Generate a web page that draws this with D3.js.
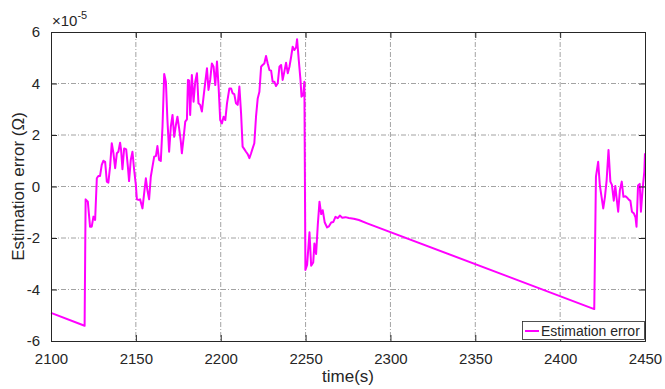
<!DOCTYPE html>
<html><head><meta charset="utf-8">
<script src="https://cdn.jsdelivr.net/npm/d3@7"></script>
<style>
body{margin:0;background:#fff;}
text{font-family:"Liberation Sans",Arial,Helvetica,sans-serif;fill:#262626;}
</style></head>
<body>
<svg id="c" width="665" height="389"></svg>
<script>
// time (s)
const times = [2100,2119.8,2120.4,2121.7,2123.0,2124.0,2125.0,2126.0,2127.0,2127.9,2128.9,2129.9,2130.9,2131.9,2132.9,2133.8,2134.8,2135.8,2136.8,2137.8,2138.8,2139.7,2140.7,2141.3,2142.1,2143.1,2144.3,2145.3,2146.0,2147.0,2148.0,2149.0,2150.0,2150.6,2151.5,2152.5,2153.9,2154.9,2155.9,2156.8,2157.8,2158.8,2159.8,2160.8,2161.8,2162.7,2163.7,2164.7,2165.7,2166.7,2167.7,2168.6,2169.6,2170.6,2171.6,2172.6,2173.6,2174.5,2175.5,2176.5,2177.1,2178.1,2179.1,2180.1,2180.7,2181.4,2182.0,2183.0,2184.0,2185.0,2186.0,2186.9,2187.9,2188.9,2189.9,2190.9,2191.9,2192.8,2193.8,2194.8,2195.8,2196.8,2197.8,2198.7,2199.7,2200.7,2201.7,2202.7,2203.7,2205.1,2206.1,2207.0,2208.0,2209.0,2210.0,2211.0,2212.0,2212.9,2213.9,2214.9,2215.9,2216.9,2217.9,2218.8,2219.8,2220.8,2221.8,2222.8,2223.8,2224.7,2225.7,2226.7,2227.7,2228.7,2229.7,2230.6,2231.6,2232.6,2233.6,2234.6,2235.6,2236.5,2237.5,2238.5,2239.5,2240.5,2241.5,2242.4,2243.4,2244.4,2245.0,2246.0,2247.0,2247.6,2248.6,2249.3,2249.9,2250.9,2252.3,2253.3,2254.5,2255.2,2256.2,2257.2,2258.2,2259.2,2260.1,2261.3,2262.7,2263.7,2265.1,2266.3,2267.6,2269.0,2270.2,2271.6,2273.5,2275.5,2278.4,2281.4,2286.3,2420.1,2421.1,2422.4,2423.4,2424.4,2425.4,2426.4,2427.4,2428.5,2429.6,2430.5,2431.6,2432.5,2433.3,2434.2,2435.2,2436.3,2437.3,2438.5,2439.7,2440.6,2441.4,2442.3,2443.5,2444.4,2445.0,2445.9,2446.9,2447.6,2448.6,2449.6,2450.0];
// estimation error (x1e-5 ohm)
const errors = [-4.91,-5.41,-0.50,-0.59,-1.56,-1.56,-1.17,-1.30,0.32,0.41,0.41,0.84,1.00,0.96,0.19,0.15,0.77,1.68,1.29,0.71,1.29,1.35,1.70,1.42,0.67,1.48,1.44,0.77,0.21,1.03,1.35,0.64,0.06,-0.50,-0.52,-0.50,-0.85,-0.26,0.32,-0.14,-0.50,0.38,0.77,1.16,1.18,1.57,1.03,0.99,2.32,4.37,4.07,2.58,1.35,2.32,2.78,1.93,2.39,2.71,2.26,1.74,1.29,1.87,2.52,2.61,4.14,4.11,2.78,4.33,3.29,4.07,4.40,3.23,3.17,2.91,3.49,4.05,4.59,3.75,4.14,4.78,4.65,3.94,4.85,3.94,2.58,2.45,2.71,2.58,3.23,3.81,3.81,3.62,3.59,3.23,3.17,3.88,2.84,1.55,1.45,1.35,1.26,1.10,1.29,1.48,1.68,2.71,3.42,3.68,4.65,4.72,4.78,5.07,4.78,4.52,4.50,4.07,4.07,3.90,4.01,4.65,4.72,4.14,4.46,4.81,4.40,4.65,5.04,5.43,5.30,5.40,5.72,4.91,4.14,3.49,3.55,4.07,-3.24,-3.05,-1.78,-3.08,-2.95,-2.21,-2.62,-1.49,-0.59,-1.07,-0.92,-1.40,-1.59,-1.55,-1.40,-1.38,-1.18,-1.23,-1.13,-1.21,-1.19,-1.22,-1.25,-1.30,-1.43,-4.76,0.38,0.96,0.04,-0.40,-0.85,-0.40,0.25,1.42,0.19,0.06,-0.55,0.02,-0.46,-0.98,-0.14,0.19,-0.40,-0.38,-0.45,-0.52,-0.56,-0.98,-1.05,-1.20,-1.56,0.04,0.10,-0.98,-0.10,0.58,1.29];
const xTicks = [2100,2150,2200,2250,2300,2350,2400,2450];
const yTicks = [-6,-4,-2,0,2,4,6];
const seriesName = "Estimation error";
const xLabel = "time(s)";
const yLabel = "Estimation error (\u03A9)";

const L=51,R=645,T=32,B=341;
const svg=d3.select("#c");
const x=d3.scaleLinear().domain([2100,2450]).range([L,R]);
const y=d3.scaleLinear().domain([-6,6]).range([B,T]);
const axisCol="#262626";

// grid
const grid=svg.append("g");
grid.selectAll("line.gx").data(xTicks.slice(1,-1)).join("line")
 .attr("x1",d=>x(d)).attr("x2",d=>x(d)).attr("y1",T).attr("y2",B)
 .attr("stroke","#8c8c8c").attr("stroke-width",0.8).attr("stroke-dasharray","5,2,1,2");
grid.selectAll("line.gy").data(yTicks.slice(1,-1)).join("line")
 .attr("y1",d=>y(d)).attr("y2",d=>y(d)).attr("x1",L).attr("x2",R)
 .attr("stroke","#8c8c8c").attr("stroke-width",0.8).attr("stroke-dasharray","5,2,1,2");

// line
const data=times.map((t,i)=>[t,errors[i]]);
svg.append("path").datum(data)
 .attr("d",d3.line().x(d=>x(d[0])).y(d=>y(d[1])))
 .attr("fill","none").attr("stroke","#ff00ff").attr("stroke-width",2).attr("stroke-linejoin","round");

// axes
const tl=6;
const xa=svg.append("g").attr("transform",`translate(0,${B})`)
 .call(d3.axisBottom(x).tickValues(xTicks).tickSize(-tl).tickPadding(tl+6).tickFormat(d3.format("d")));
const xt=svg.append("g").attr("transform",`translate(0,${T})`)
 .call(d3.axisTop(x).tickValues(xTicks).tickSize(-tl).tickFormat(""));
const ya=svg.append("g").attr("transform",`translate(${L},0)`)
 .call(d3.axisLeft(y).tickValues(yTicks).tickSize(-tl).tickPadding(tl+5).tickFormat(d=>d));
const yr=svg.append("g").attr("transform",`translate(${R},0)`)
 .call(d3.axisRight(y).tickValues(yTicks).tickSize(-tl).tickFormat(""));
[xa,xt,ya,yr].forEach(g=>{
  g.select(".domain").attr("stroke",axisCol).attr("stroke-width",1);
  g.selectAll(".tick line").attr("stroke",axisCol).attr("stroke-width",1);
  g.selectAll(".tick text").attr("font-size",15).attr("fill",axisCol).style("font-family","Liberation Sans, Arial, sans-serif");
});
xa.selectAll(".tick text").attr("dy","0.71em");

// exponent
const ex=svg.append("text").attr("x",52).attr("y",26).attr("font-size",15);
ex.append("tspan").text("\u00D710");
ex.append("tspan").attr("dy",-7).attr("font-size",11).text("-5");

// axis labels
svg.append("text").attr("x",(L+R)/2).attr("y",382).attr("text-anchor","middle").attr("font-size",17).text(xLabel);
svg.append("text").attr("transform",`translate(24,${(T+B)/2}) rotate(-90)`).attr("text-anchor","middle").attr("font-size",17).text(yLabel);

// legend
const lg=svg.append("g");
lg.append("rect").attr("x",522.5).attr("y",321.5).attr("width",122).attr("height",18)
 .attr("fill","#fff").attr("stroke",axisCol).attr("stroke-width",0.8);
lg.append("line").attr("x1",525).attr("x2",539).attr("y1",331).attr("y2",331).attr("stroke","#ff00ff").attr("stroke-width",2);
lg.append("text").attr("x",541).attr("y",336).attr("font-size",14).text(seriesName);
</script>
</body></html>
